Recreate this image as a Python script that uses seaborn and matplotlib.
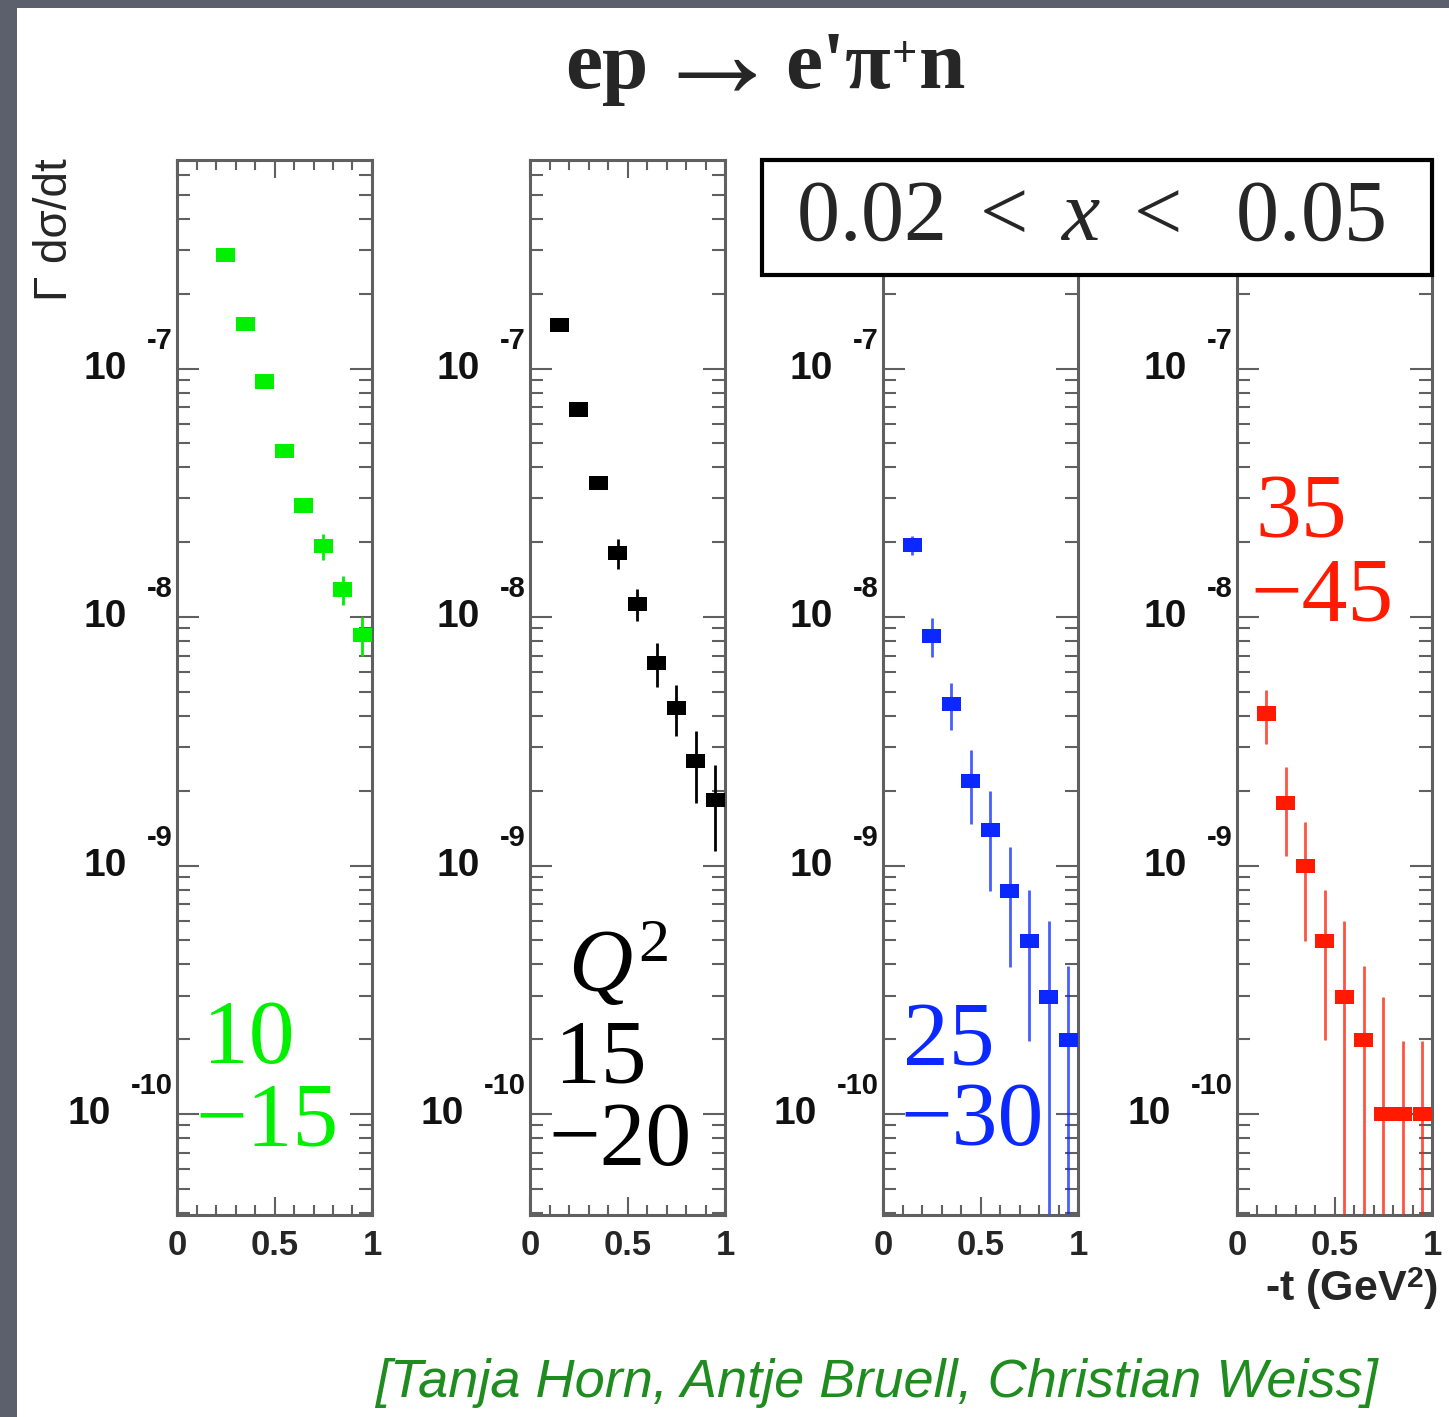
import numpy as np
import pandas as pd
import matplotlib
matplotlib.use("Agg")
import matplotlib.pyplot as plt
import seaborn as sns
from matplotlib.path import Path
from matplotlib.markers import MarkerStyle
from matplotlib.patches import Rectangle
from matplotlib import transforms as mtrans
from matplotlib.ticker import LogLocator, MultipleLocator, NullFormatter

# ---------------- data ----------------
t_green = [0.25, 0.35, 0.45, 0.55, 0.65, 0.75, 0.85, 0.95]
val_green = [2.86e-7, 1.51e-7, 8.87e-8, 4.65e-8, 2.81e-8, 1.93e-8, 1.29e-8, 8.5e-9]
err_green = [2.0e-9, 1.5e-9, 1.2e-9, 1.0e-9, 1.2e-9, 2.3e-9, 1.75e-9, 1.5e-9]

t_black = [0.15, 0.25, 0.35, 0.45, 0.55, 0.65, 0.75, 0.85, 0.95]
val_black = [1.50e-7, 6.84e-8, 3.46e-8, 1.81e-8, 1.13e-8, 6.53e-9, 4.32e-9, 2.63e-9, 1.84e-9]
err_black = [3.0e-9, 2.0e-9, 1.5e-9, 2.5e-9, 1.7e-9, 1.3e-9, 1.0e-9, 0.85e-9, 0.7e-9]

t_blue = [0.15, 0.25, 0.35, 0.45, 0.55, 0.65, 0.75, 0.85, 0.95]
val_blue = [1.95e-8, 8.4e-9, 4.47e-9, 2.19e-9, 1.39e-9, 7.89e-10, 4.97e-10, 2.97e-10, 1.99e-10]
err_blue = [1.7e-9, 1.5e-9, 0.97e-9, 0.72e-9, 0.6e-9, 4.0e-10, 3.0e-10, 3.0e-10, 1.95e-10]

t_red = [0.15, 0.25, 0.35, 0.45, 0.55, 0.65, 0.75, 0.85, 0.95]
val_red = [4.09e-9, 1.79e-9, 9.96e-10, 4.99e-10, 2.97e-10, 1.98e-10, 1.0e-10, 1.0e-10, 1.0e-10]
err_red = [1.0e-9, 0.7e-9, 0.5e-9, 3.0e-10, 3.0e-10, 1.95e-10, 1.96e-10, 0.97e-10, 0.97e-10]

q2_low = ["10", "15", "25", "35"]
q2_high = ["15", "20", "30", "45"]
colors = ["#00f000", "#000000", "#0a28ff", "#ff1a00"]
x_tick_values = [0, 0.5, 1]
x_tick_labels = ["0", "0.5", "1"]
decades = [-7, -8, -9, -10]
title_parts = ["ep", "\u2192", "e'\u03c0", "+", "n"]
ylabel = "\u0393 d\u03c3/dt"
xlabel = r"-t (GeV$^{\mathsf{2}}$)"
xrange_text = r"$0.02\ <\ x\ <\ \ 0.05$"
credit = "[Tanja Horn, Antje Bruell, Christian Weiss]"

panels = [
    (t_green, val_green, err_green),
    (t_black, val_black, err_black),
    (t_blue, val_blue, err_blue),
    (t_red, val_red, err_red),
]

# ---------------- style ----------------
sns.set_theme(style="ticks")
plt.rcParams["font.family"] = ["Liberation Sans", "DejaVu Sans"]
plt.rcParams["mathtext.fontset"] = "custom"
plt.rcParams["mathtext.rm"] = "Liberation Serif"
plt.rcParams["mathtext.it"] = "Liberation Serif:italic"
plt.rcParams["mathtext.bf"] = "Liberation Serif:bold"
plt.rcParams["mathtext.sf"] = "Liberation Sans:bold"

W, H = 1449, 1417
fig = plt.figure(figsize=(W / 100, H / 100), dpi=100, facecolor="#5b606c")
fig.add_artist(Rectangle((17 / W, 0), 1 - 17 / W, 1 - 8 / H, transform=fig.transFigure,
                         facecolor="white", edgecolor="none", zorder=-5))

ylo, yhi = 10 ** -10.406, 10 ** -6.161
left_px = [177, 530, 883, 1237]
top_px, bot_px, wid_px = 160, 1215, 195

rect = MarkerStyle(Path([(-1, -0.74), (1, -0.74), (1, 0.74), (-1, 0.74), (-1, -0.74)],
                        [Path.MOVETO, Path.LINETO, Path.LINETO, Path.LINETO, Path.CLOSEPOLY]))
spine_col = "#606060"

axes = []
exp_texts = []
for i, (t, v, e) in enumerate(panels):
    ax = fig.add_axes([left_px[i] / W, 1 - bot_px / H, wid_px / W, (bot_px - top_px) / H])
    ax.set_facecolor("white")
    axes.append(ax)
    t = np.asarray(t); v = np.asarray(v); e = np.asarray(e)
    lo = np.where(v - e > 0, e, v - 1e-14)
    err_alpha = 1.0 if i < 2 else 0.75
    ax.errorbar(t, v, yerr=[lo, e], fmt="none", ecolor=colors[i], elinewidth=2.0,
                alpha=err_alpha, zorder=2)
    df = pd.DataFrame({"t": t, "val": v})
    sns.scatterplot(data=df, x="t", y="val", ax=ax, color=colors[i], marker=rect,
                    s=190, linewidth=0, edgecolor="none", zorder=3, legend=False)
    ax.set_yscale("log")
    ax.set_ylim(ylo, yhi)
    ax.set_xlim(0, 1)
    ax.set_xlabel("")
    ax.set_ylabel("")
    ax.yaxis.set_major_locator(LogLocator(base=10, numticks=20))
    ax.yaxis.set_minor_locator(LogLocator(base=10, subs=np.arange(2, 10), numticks=20))
    ax.yaxis.set_major_formatter(NullFormatter())
    ax.yaxis.set_minor_formatter(NullFormatter())
    ax.set_xticks(x_tick_values, labels=x_tick_labels)
    ax.xaxis.set_minor_locator(MultipleLocator(0.1))
    ax.tick_params(which="both", direction="in", top=True, right=True, color=spine_col, width=1.5)
    ax.tick_params(axis="y", which="major", length=16)
    ax.tick_params(axis="y", which="minor", length=9.5)
    ax.tick_params(axis="x", which="major", length=13, labelsize=25, pad=10)
    ax.tick_params(axis="x", which="minor", length=7)
    for lab in ax.get_xticklabels():
        lab.set_fontweight("bold")
    for sp in ax.spines.values():
        sp.set_color(spine_col)
        sp.set_linewidth(2.2)
    for d in decades:
        tr = mtrans.offset_copy(ax.get_yaxis_transform(), fig=fig, x=-4, y=28, units="dots")
        tx = ax.text(0, 10.0 ** d, f"{d}", transform=tr, ha="right", va="center",
                     fontsize=21, fontweight="bold", color="#111111")
        exp_texts.append((ax, d, tx))

fig.canvas.draw()
rend = fig.canvas.get_renderer()
for ax, d, tx in exp_texts:
    w = tx.get_window_extent(rend).width
    tr = mtrans.offset_copy(ax.get_yaxis_transform(), fig=fig, x=-4 - w - 20, y=0, units="dots")
    ax.text(0, 10.0 ** d, "10", transform=tr, ha="right", va="center",
            fontsize=28, fontweight="bold", color="#111111")

# Q2 range labels (pixel positions of text)
serif = ["Liberation Serif", "DejaVu Serif"]
lab_pos = [((203, 1063), (195, 1145)),
           ((555, 1082), (548, 1165)),
           ((903, 1065), (900, 1145)),
           ((1255, 537), (1250, 620))]
for i in range(4):
    (x1, y1), (x2, y2) = lab_pos[i]
    fig.text(x1 / W, 1 - y1 / H, q2_low[i], color=colors[i], fontsize=66, family=serif,
             ha="left", va="baseline")
    fig.text(x2 / W, 1 - y2 / H, "\u2212" + q2_high[i], color=colors[i], fontsize=66,
             family=serif, ha="left", va="baseline")
fig.text(568 / W, 1 - 990 / H, r"$Q^{2}$", color="black", fontsize=64, ha="left", va="baseline")

# title built from pieces
fig.text(648 / W, 1 - 88 / H, title_parts[0], ha="right", va="baseline", fontsize=60,
         fontweight="bold", family=serif)
fig.text(717 / W, 1 - 96 / H, title_parts[1], ha="center", va="baseline", fontsize=94,
         fontweight="bold", family=serif)
t3 = fig.text(785 / W, 1 - 88 / H, title_parts[2], ha="left", va="baseline", fontsize=60,
              fontweight="bold", family=serif)
fig.canvas.draw()
x_end = t3.get_window_extent(rend).x1
t4 = fig.text((x_end + 1) / W, 1 - 66 / H, title_parts[3], ha="left", va="baseline",
              fontsize=32, fontweight="bold", family=serif)
fig.canvas.draw()
x_end = t4.get_window_extent(rend).x1
fig.text((x_end + 2) / W, 1 - 88 / H, title_parts[4], ha="left", va="baseline", fontsize=60,
         fontweight="bold", family=serif)

# x-range box
fig.add_artist(Rectangle((762 / W, 1 - 275 / H), 670 / W, 115 / H, transform=fig.transFigure,
                         facecolor="white", edgecolor="black", linewidth=3, zorder=5))
fig.text(1090 / W, 1 - 218 / H, xrange_text, ha="center", va="center", fontsize=62, zorder=6)

# axis labels
fig.text(55 / W, 1 - 158 / H, ylabel, rotation=90, ha="center", va="top", fontsize=33)
fig.text(1438 / W, 1 - 1301 / H, xlabel, ha="right", va="baseline", fontsize=31,
         fontweight="bold")

# credit line
fig.text(375 / W, 1 - 1397 / H, credit, ha="left", va="baseline", fontsize=39,
         style="italic", color="#1f8c1f")

fig.savefig("out.png", dpi=100, facecolor=fig.get_facecolor())
